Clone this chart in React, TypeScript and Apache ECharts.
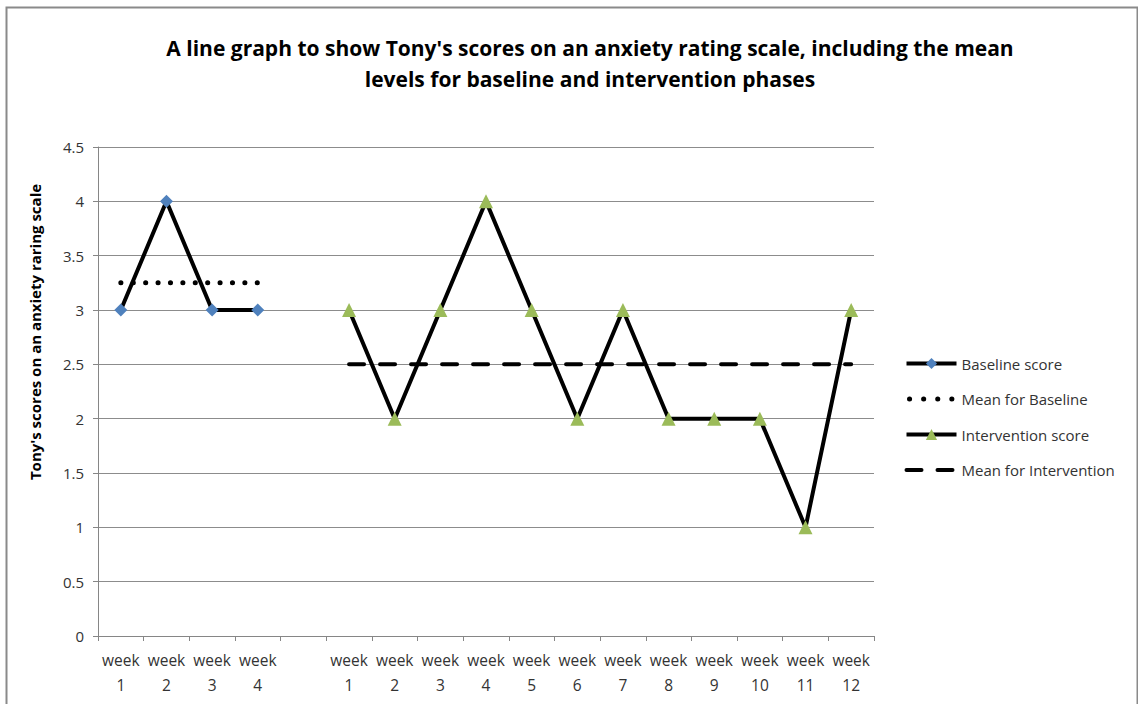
import React, { useEffect, useRef } from "react";
import * as echarts from "echarts";

const categories = [
  "week\n1", "week\n2", "week\n3", "week\n4", "",
  "week\n1", "week\n2", "week\n3", "week\n4", "week\n5", "week\n6",
  "week\n7", "week\n8", "week\n9", "week\n10", "week\n11", "week\n12",
];
const baselineScore = [3, 4, 3, 3, null, null, null, null, null, null, null, null, null, null, null, null, null];
const baselineMean = [3.25, 3.25, 3.25, 3.25, null, null, null, null, null, null, null, null, null, null, null, null, null];
const interventionScore = [null, null, null, null, null, 3, 2, 3, 4, 3, 2, 3, 2, 2, 2, 1, 3];
const interventionMean = [null, null, null, null, null, 2.5, 2.5, 2.5, 2.5, 2.5, 2.5, 2.5, 2.5, 2.5, 2.5, 2.5, 2.5];

const FONT = "'Open Sans', 'Noto Sans', sans-serif";
const DOTS: number[] = [0.1, 12.3];
const DASHES: number[] = [15, 16];

export default function App() {
  const ref = useRef<HTMLDivElement>(null);
  useEffect(() => {
    if (!ref.current) return;
    const chart = echarts.init(ref.current, null, { renderer: "svg" });
    chart.setOption({
      animation: false,
      backgroundColor: "#ffffff",
      title: {
        text: "A line graph to show Tony's scores on an anxiety rating scale, including the mean\nlevels for baseline and intervention phases",
        left: 585,
        top: 27,
        textAlign: "center",
        textStyle: {
          fontFamily: FONT,
          fontWeight: "bold",
          fontSize: 21,
          lineHeight: 31,
          color: "#000",
        },
      },
      graphic: [
        {
          type: "rect",
          shape: { x: 6.5, y: 7.5, width: 1131, height: 720 },
          style: { fill: "none", stroke: "#8a8a8a", lineWidth: 2 },
          silent: true,
        },
        {
          type: "text",
          x: 35,
          y: 332,
          rotation: Math.PI / 2,
          style: {
            text: "Tony's scores on an anxiety raring scale",
            fontFamily: FONT,
            fontWeight: "bold",
            fontSize: 15,
            fill: "#000",
            align: "center",
            verticalAlign: "middle",
          },
        },
      ],
      legend: {
        orient: "vertical",
        left: 899,
        top: 351,
        itemWidth: 50,
        itemHeight: 14,
        itemGap: 20.5,
        textStyle: { fontFamily: FONT, fontSize: 15, color: "#333" },
        data: [
          { name: "Baseline score", lineStyle: { width: 4 } },
          { name: "Mean for Baseline", lineStyle: { width: 5, type: [0.1, 14], cap: "round", dashOffset: -3 } },
          { name: "Intervention score", lineStyle: { width: 4 } },
          { name: "Mean for Intervention", lineStyle: { width: 4, type: DASHES, cap: "round" } },
        ],
      },
      grid: { left: 98, right: 1138 - 874, top: 147, bottom: 704 - 636, containLabel: false },
      xAxis: {
        type: "category",
        data: categories,
        boundaryGap: true,
        axisLine: { lineStyle: { color: "#868686", width: 1 } },
        axisTick: { show: true, length: 5, lineStyle: { color: "#868686" }, alignWithLabel: false },
        axisLabel: {
          interval: 0,
          fontFamily: FONT,
          fontSize: 15.5,
          color: "#333",
          lineHeight: 25,
          margin: 11,
        },
        splitLine: { show: false },
      },
      yAxis: {
        type: "value",
        min: 0,
        max: 4.5,
        interval: 0.5,
        axisLine: { show: true, lineStyle: { color: "#868686" } },
        axisTick: { show: true, length: 5, inside: false, lineStyle: { color: "#868686" } },
        axisLabel: { fontFamily: FONT, fontSize: 15, color: "#333", margin: 14 },
        splitLine: { show: true, lineStyle: { color: "#8c8c8c", width: 1 } },
      },
      series: [
        {
          name: "Baseline score",
          type: "line",
          data: baselineScore,
          symbol: "diamond",
          symbolSize: 13,
          itemStyle: { color: "#4F81BD" },
          lineStyle: { color: "#000", width: 4 },
          connectNulls: false,
          z: 3,
        },
        {
          name: "Mean for Baseline",
          type: "line",
          data: baselineMean,
          symbol: "none",
          itemStyle: { color: "rgba(0,0,0,0)" },
          lineStyle: { color: "#000", width: 5, type: DOTS, cap: "round" },
          z: 2,
        },
        {
          name: "Intervention score",
          type: "line",
          data: interventionScore,
          symbol: "triangle",
          symbolSize: 14,
          itemStyle: { color: "#9BBB59" },
          lineStyle: { color: "#000", width: 4 },
          z: 3,
        },
        {
          name: "Mean for Intervention",
          type: "line",
          data: interventionMean,
          symbol: "none",
          itemStyle: { color: "rgba(0,0,0,0)" },
          lineStyle: { color: "#000", width: 4, type: DASHES, cap: "round" },
          z: 2,
        },
      ],
    });
    return () => chart.dispose();
  }, []);
  return (
    <div
      ref={ref}
      style={{ position: "absolute", left: 0, top: 0, width: 1138, height: 704 }}
    />
  );
}
